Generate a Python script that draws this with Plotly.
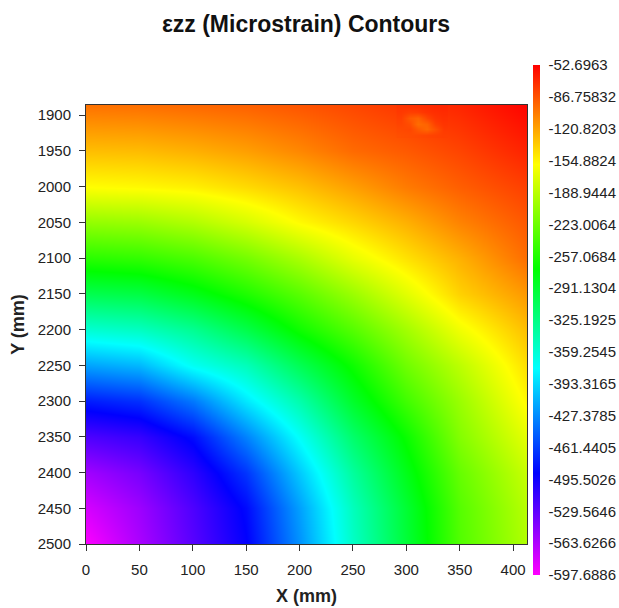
import plotly.graph_objects as go

x_mm = [0, 50, 100, 150, 200, 250, 300, 350, 413]
y_mm = [2500, 2450, 2400, 2350, 2300, 2250, 2200, 2150, 2100, 2050, 2000, 1950, 1886]
strain = [
    [-597, -562, -526, -490, -424, -353, -294, -235, -193],
    [-580, -556, -522, -485, -418, -349, -292, -233, -190],
    [-558, -540, -508, -466, -400, -336, -281, -226, -183],
    [-522, -512, -484, -432, -374, -315, -267, -213, -170],
    [-477, -468, -436, -387, -342, -288, -243, -203, -156],
    [-417, -408, -372, -348, -305, -265, -222, -188, -145],
    [-359, -352, -332, -302, -265, -234, -200, -165, -132],
    [-304, -299, -281, -258, -232, -203, -172, -140, -116],
    [-253, -249, -238, -220, -196, -169, -147, -126, -98],
    [-206, -203, -193, -177, -157, -142, -126, -107, -89],
    [-159, -157, -153, -144, -133, -119, -104, -92, -79],
    [-132, -131, -126, -119, -109, -97, -90, -81, -67],
    [-100, -99, -96, -93, -88, -82, -75, -68, -54],
]

spot_x = [295, 303, 311, 319, 327, 335]
spot_y = [1888, 1896, 1904, 1912, 1920, 1928]
spot_strain = [
    [-74.5, -73, -72, -71, -69.5, -68.5],
    [-76.5, -79, -78, -74, -72, -70.5],
    [-79, -90, -94, -82, -75, -72.5],
    [-81, -85, -98, -94, -80, -74.5],
    [-83, -82, -90, -96, -87, -76.5],
    [-85, -84, -83, -81.5, -80, -78.5],
]

bar_values = [-52.6963, -86.75832, -120.8203, -154.8824, -188.9444, -223.0064,
              -257.0684, -291.1304, -325.1925, -359.2545, -393.3165, -427.3785,
              -461.4405, -495.5026, -529.5646, -563.6266, -597.6886]
bar_labels = ["-52.6963", "-86.75832", "-120.8203", "-154.8824", "-188.9444", "-223.0064",
              "-257.0684", "-291.1304", "-325.1925", "-359.2545", "-393.3165", "-427.3785",
              "-461.4405", "-495.5026", "-529.5646", "-563.6266", "-597.6886"]

rainbow = [[0, "#ff00ff"], [0.2, "#0000ff"], [0.405, "#00ffff"],
           [0.6, "#00ff00"], [0.805, "#ffff00"], [1, "#ff0000"]]
ZMIN, ZMAX = -597.6886, -52.6963
W, H = 619, 608
INK = "#222222"
FONT = "Liberation Sans, Arial, sans-serif"


def fx(px):
    return px / W


def fy(px):
    return 1 - px / H


fig = go.Figure()
fig.add_trace(go.Heatmap(
    x=x_mm, y=y_mm, z=strain, zmin=ZMIN, zmax=ZMAX, zsmooth="best",
    colorscale=rainbow, hoverinfo="skip",
    colorbar=dict(
        thickness=7, lenmode="pixels", len=510,
        x=fx(533), xanchor="left", y=fy(575), yanchor="bottom",
        xpad=0, ypad=0, outlinewidth=0,
        tickmode="array", tickvals=bar_values, ticktext=bar_labels,
        ticks="outside", ticklen=6, tickcolor="rgba(0,0,0,0)",
        tickfont=dict(family=FONT, size=15, color=INK),
    ),
))
fig.add_trace(go.Heatmap(
    x=spot_x, y=spot_y, z=spot_strain, zmin=ZMIN, zmax=ZMAX, zsmooth="best",
    colorscale=rainbow, showscale=False, hoverinfo="skip",
))

axis_common = dict(
    showgrid=False, zeroline=False, showline=True, mirror=True,
    linecolor="#333333", linewidth=1, ticks="outside", ticklen=6,
    tickcolor="#333333", tickwidth=1,
    tickfont=dict(family=FONT, size=15, color=INK),
)
fig.update_layout(
    width=W, height=H, paper_bgcolor="white", plot_bgcolor="white",
    margin=dict(l=0, r=0, t=0, b=0, autoexpand=False), autosize=False,
    title=dict(
        text="<b>εzz (Microstrain) Contours</b>", x=fx(306), xanchor="center",
        y=fy(24), yanchor="middle",
        font=dict(family=FONT, size=23, color="#111111"),
    ),
    xaxis=dict(
        axis_common, domain=[fx(86), fx(527)], range=[0, 413], tick0=0, dtick=50,
        ticklabelstandoff=6,
        title=dict(text="<b>X (mm)</b>", font=dict(family=FONT, size=18, color=INK), standoff=12),
    ),
    yaxis=dict(
        axis_common, domain=[fy(544), fy(105)], range=[2500, 1886],
        tickvals=[1900, 1950, 2000, 2050, 2100, 2150, 2200, 2250, 2300, 2350, 2400, 2450, 2500],
        ticklabelstandoff=5,
        title=dict(text="<b>Y (mm)</b>", font=dict(family=FONT, size=18, color=INK), standoff=8),
    ),
)
fig.write_html(
    "out.html",
    config={"displayModeBar": False},
    post_script="document.body.style.margin='0';document.documentElement.style.overflow='hidden';",
)
